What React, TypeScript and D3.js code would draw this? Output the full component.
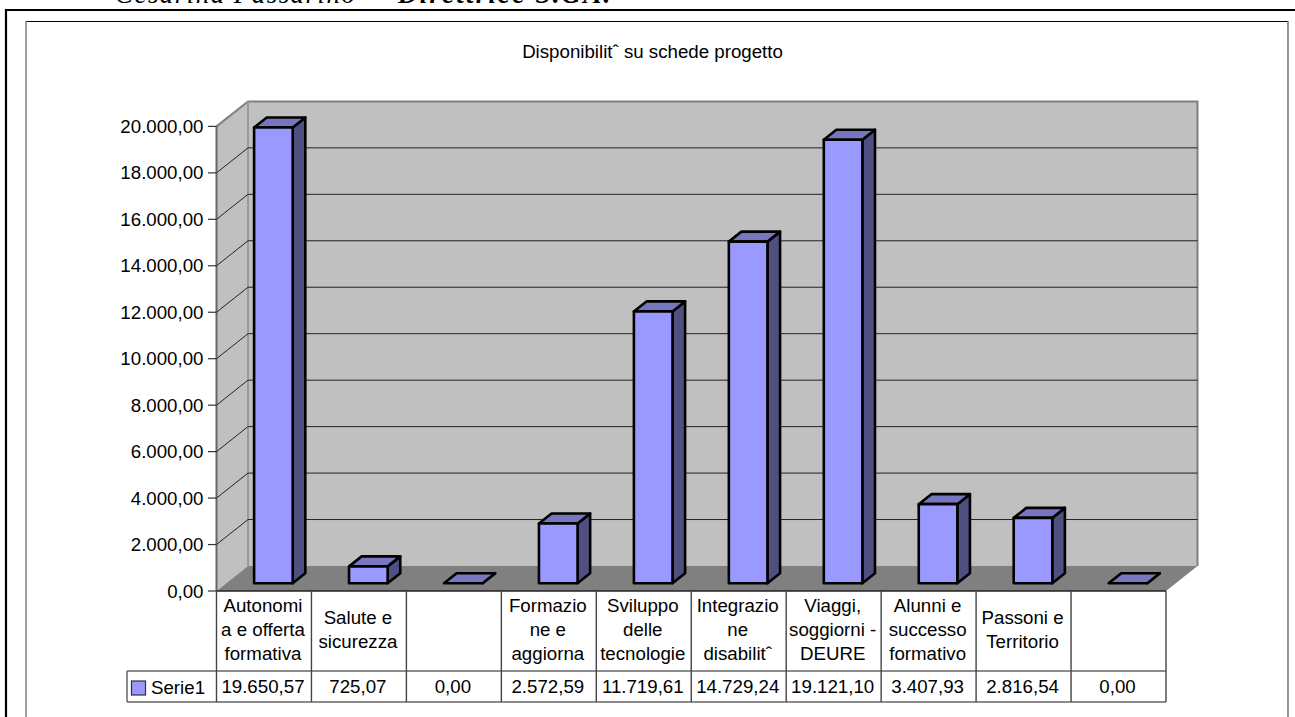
import React from "react";
import * as d3 from "d3";

const categoryLines: string[][] = [
  ["Autonomi", "a e offerta", "formativa"],
  ["Salute e", "sicurezza"],
  [],
  ["Formazio", "ne e", "aggiorna"],
  ["Sviluppo", "delle", "tecnologie"],
  ["Integrazio", "ne", "disabilitˆ"],
  ["Viaggi,", "soggiorni -", "DEURE"],
  ["Alunni e", "successo", "formativo"],
  ["Passoni e", "Territorio"],
  [],
];
const values = [19650.57, 725.07, 0, 2572.59, 11719.61, 14729.24, 19121.1, 3407.93, 2816.54, 0];
const yTicks = [0, 2000, 4000, 6000, 8000, 10000, 12000, 14000, 16000, 18000, 20000];
const seriesName = "Serie1";
const title = "Disponibilitˆ su schede progetto";
const headerName = "Cesarina Passarino –";
const headerRole = "Direttrice S.GA.";

const itFormat = (v: number) => {
  const f = d3.format(",.2f")(v);
  return f.replace(/[.,]/g, (c) => (c === "," ? "." : ","));
};

const FONT = "'Liberation Sans', Arial, sans-serif";
const FS = 18.7;

export default function App() {
  const y = d3.scaleLinear().domain([0, 20000]).range([591, 126.4]);
  const barY = d3.scaleLinear().domain([0, 20000]).range([583.2, 119.4]);
  const x = d3.scaleBand<number>().domain(d3.range(values.length)).range([216.5, 1166]);
  const step = x.bandwidth();
  const wallDx = 31.5;
  const wallDy = 25;
  const barDx = 12.6;
  const barDy = 10;
  const barOffset = 37.6;
  const barW = 38.6;
  const top = y(20000);
  const bottom = y(0);
  const right = x.range()[1];
  const left = x.range()[0];
  const tableMid = 671;
  const tableBottom = 702;
  const line = d3.line();

  return (
    <svg
      width={1295}
      height={717}
      style={{ position: "absolute", left: 0, top: 0, background: "#fff" }}
      fontFamily={FONT}
    >
      <text
        y={3}
        fontFamily="'Liberation Serif', serif"
        fontStyle="italic"
        fontSize={27}
        letterSpacing={1.45}
        fill="#000"
      >
        <tspan x={115}>{headerName}</tspan>
        <tspan x={398} fontWeight="bold" letterSpacing={2.2}>
          {headerRole}
        </tspan>
      </text>
      <line x1={6} x2={1295} y1={10} y2={10} stroke="#000" strokeWidth={2.2} />
      <line x1={6} x2={6} y1={9} y2={717} stroke="#000" strokeWidth={2.2} />
      <line x1={26} x2={1288} y1={21.5} y2={21.5} stroke="#000" strokeWidth={1} />
      <line x1={26} x2={26} y1={21} y2={717} stroke="#777" strokeWidth={1.4} />
      <line x1={1288} x2={1288} y1={21} y2={717} stroke="#666" strokeWidth={1.4} />

      <text x={652.5} y={57.5} textAnchor="middle" fontSize={FS}>
        {title}
      </text>

      {/* walls and floor */}
      <path
        d={line([
          [left, top],
          [left + wallDx, top - wallDy],
          [left + wallDx, bottom - wallDy],
          [left, bottom],
        ])! + "Z"}
        fill="#c0c0c0"
      />
      <rect x={left + wallDx} y={top - wallDy} width={right - left} height={bottom - top} fill="#c0c0c0" />
      <path
        d={line([
          [left, bottom],
          [left + wallDx, bottom - wallDy],
          [right + wallDx, bottom - wallDy],
          [right, bottom],
        ])! + "Z"}
        fill="#808080"
      />
      <path
        d={line([
          [left, top],
          [left + wallDx, top - wallDy],
          [right + wallDx, top - wallDy],
          [right + wallDx, bottom - wallDy],
        ])!}
        fill="none"
        stroke="#808080"
        strokeWidth={2}
      />
      <line x1={left + wallDx} x2={left + wallDx} y1={top - wallDy} y2={bottom - wallDy} stroke="#9a9a9a" strokeWidth={2} />
      <line x1={left} x2={left} y1={top} y2={bottom} stroke="#666" strokeWidth={2} />

      {/* gridlines and axis */}
      {yTicks.map((t) => (
        <g key={t}>
          {t !== 0 && t !== 20000 && (
            <path
              d={line([
                [left, y(t)],
                [left + wallDx, y(t) - wallDy],
                [right + wallDx, y(t) - wallDy],
              ])!}
              fill="none"
              stroke="#222"
              strokeWidth={1}
            />
          )}
          <line x1={208} x2={left} y1={y(t)} y2={y(t)} stroke="#333" strokeWidth={1.2} />
          <text x={203.5} y={y(t) + 6.5} textAnchor="end" fontSize={FS}>
            {itFormat(t)}
          </text>
        </g>
      ))}

      {/* bars */}
      {values.map((v, i) => {
        const x0 = x(i)! + barOffset;
        const x1 = x0 + barW;
        const yb = barY(0);
        const yt = barY(v);
        return (
          <g key={i} stroke="#000" strokeWidth={2.6} strokeLinejoin="round">
            <path
              d={line([
                [x1, yb],
                [x1 + barDx, yb - barDy],
                [x1 + barDx, yt - barDy],
                [x1, yt],
              ])! + "Z"}
              fill="#4f4f80"
            />
            <path
              d={line([
                [x0, yt],
                [x0 + barDx, yt - barDy],
                [x1 + barDx, yt - barDy],
                [x1, yt],
              ])! + "Z"}
              fill="#7777c0"
            />
            {v > 0 && <rect x={x0} y={yt} width={barW} height={yb - yt} fill="#9999ff" />}
          </g>
        );
      })}

      {/* data table */}
      <line x1={left} x2={right} y1={bottom} y2={bottom} stroke="#222" strokeWidth={1.6} />
      <line x1={127} x2={right} y1={tableMid} y2={tableMid} stroke="#666" strokeWidth={1.5} />
      <line x1={127} x2={right} y1={tableBottom} y2={tableBottom} stroke="#666" strokeWidth={1.5} />
      <line x1={127} x2={127} y1={tableMid} y2={tableBottom} stroke="#666" strokeWidth={1.5} />
      {d3.range(values.length + 1).map((i) => {
        const xp = left + step * i;
        return <line key={i} x1={xp} x2={xp} y1={bottom} y2={tableBottom} stroke="#444" strokeWidth={1.4} />;
      })}
      {categoryLines.map((lines, i) => {
        const cx = x(i)! + step / 2 - 1;
        const startY = 636 - ((lines.length - 1) * 24) / 2;
        return (
          <text key={i} textAnchor="middle" fontSize={FS}>
            {lines.map((l, k) => (
              <tspan key={k} x={cx} y={startY + k * 24}>
                {l}
              </tspan>
            ))}
          </text>
        );
      })}
      {values.map((v, i) => (
        <text key={i} x={x(i)! + step / 2 - 1} y={693} textAnchor="middle" fontSize={FS}>
          {itFormat(v)}
        </text>
      ))}
      <rect x={131.5} y={681} width={14} height={14} fill="#9999ff" stroke="#333" strokeWidth={1.2} />
      <text x={151} y={694} fontSize={FS}>
        {seriesName}
      </text>
    </svg>
  );
}
